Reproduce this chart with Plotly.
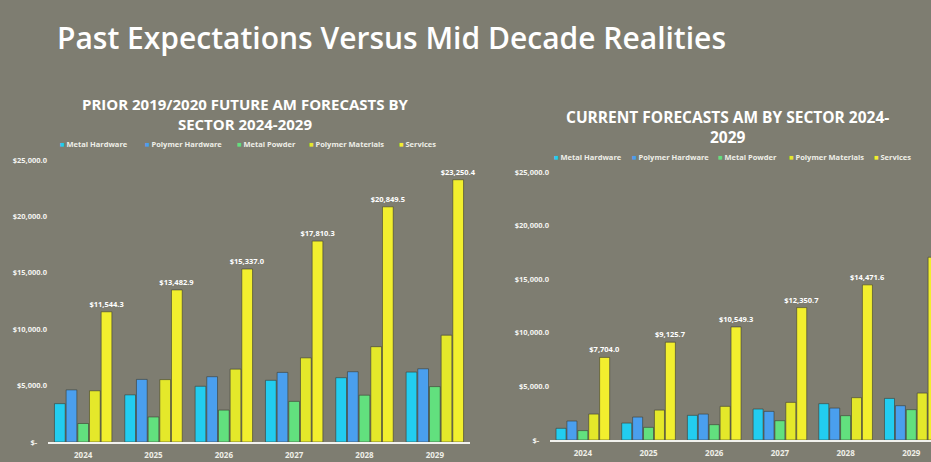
import plotly.graph_objects as go

years = ["2024", "2025", "2026", "2027", "2028", "2029"]
series_names = ["Metal Hardware", "Polymer Hardware", "Metal Powder", "Polymer Materials", "Services"]
colors = ["#22cdf0", "#4a9fee", "#62e07e", "#e4e82a", "#f2ef2e"]

prior_metal_hw = [3400, 4180, 4940, 5470, 5700, 6200]
prior_polymer_hw = [4620, 5550, 5790, 6170, 6230, 6490]
prior_metal_powder = [1640, 2220, 2830, 3600, 4150, 4910]
prior_polymer_mat = [4540, 5530, 6460, 7460, 8450, 9470]
prior_services = [11544.3, 13482.9, 15337.0, 17810.3, 20849.5, 23250.4]

curr_metal_hw = [1090, 1580, 2300, 2890, 3390, 3880]
curr_polymer_hw = [1770, 2140, 2420, 2670, 2980, 3200]
curr_metal_powder = [875, 1180, 1430, 1800, 2270, 2830]
curr_polymer_mat = [2420, 2790, 3140, 3510, 3950, 4380]
curr_services = [7704.0, 9125.7, 10549.3, 12350.7, 14471.6, 17050.0]

y_tickvals = [0, 5000, 10000, 15000, 20000, 25000]
y_ticktext = ["$-\u00a0\u00a0\u00a0\u00a0\u00a0", "$5,000.0", "$10,000.0", "$15,000.0", "$20,000.0", "$25,000.0"]

main_title = "Past Expectations Versus Mid Decade Realities"
left_title = "PRIOR 2019/2020 FUTURE AM FORECASTS BY<br>SECTOR 2024-2029"
right_title = "CURRENT FORECASTS AM BY SECTOR 2024-<br>2029"

FONT = "Open Sans"
W, H = 931, 462

fig = go.Figure()

prior = [prior_metal_hw, prior_polymer_hw, prior_metal_powder, prior_polymer_mat, prior_services]
curr = [curr_metal_hw, curr_polymer_hw, curr_metal_powder, curr_polymer_mat, curr_services]
label_font = dict(family=FONT, size=7.5, color="white", weight="bold")


def add_group(data, xa, ya):
    for i, (name, vals) in enumerate(zip(series_names, data)):
        is_svc = name == "Services"
        fig.add_trace(go.Bar(
            x=years, y=vals, name=name, xaxis=xa, yaxis=ya,
            marker=dict(color=colors[i], line=dict(color="rgba(60,60,50,0.6)", width=1)),
            showlegend=False,
            text=vals if is_svc else None,
            texttemplate="$%{y:,.1f}" if is_svc else None,
            textposition="outside" if is_svc else "none",
            constraintext="none",
            textfont=label_font,
            cliponaxis=False,
        ))


add_group(prior, "x", "y")
add_group(curr, "x2", "y2")

axis_common_x = dict(
    showgrid=False, showline=True, linecolor="#f2f2ee", linewidth=2,
    ticks="", ticklabelstandoff=4,
    tickfont=dict(family=FONT, size=8, color="#efefe8", weight="bold"),
    type="category", zeroline=False,
)
axis_common_y = dict(
    showgrid=False, showline=False, zeroline=False, range=[0, 25000],
    tickvals=y_tickvals, ticktext=y_ticktext, ticks="",
    tickfont=dict(family=FONT, size=7.5, color="#f4f4f0", weight="bold"),
)

# legend built as annotations (square marker + label)
legend_left_x = [58, 143, 235, 307, 397]
legend_right_x = [552, 630, 716, 787, 872]
legend_left_y = 144
legend_right_y = 157

annotations = [
    dict(text=main_title, x=55 / W, y=(H - 38) / H, xref="paper", yref="paper",
         xanchor="left", yanchor="middle", showarrow=False,
         font=dict(family=FONT, size=30, color="white", weight=600)),
    dict(text=left_title, x=245 / W, y=(H - 114) / H, xref="paper", yref="paper",
         xanchor="center", yanchor="middle", showarrow=False,
         font=dict(family=FONT, size=15, color="white", weight="bold")),
    dict(text=right_title, x=727 / W, y=(H - 127) / H, xref="paper", yref="paper",
         xanchor="center", yanchor="middle", showarrow=False,
         font=dict(family=FONT, size=15.5, color="white", weight="bold")),
    # value label of the last (cropped) Services bar in the right chart
    dict(text=f"${curr_services[-1]:,.1f}", x=years[-1], y=curr_services[-1],
         xref="x2", yref="y2", xanchor="left", yanchor="bottom", xshift=7, yshift=2,
         showarrow=False, font=label_font),
]
for xs, yy in ((legend_left_x, legend_left_y), (legend_right_x, legend_right_y)):
    for name, col, xx in zip(series_names, colors, xs):
        annotations.append(dict(
            text=f'<span style="color:{col}">■</span> {name}',
            x=xx / W, y=(H - yy) / H, xref="paper", yref="paper",
            xanchor="left", yanchor="middle", showarrow=False,
            font=dict(family=FONT, size=7.5, color="#efefe8", weight="bold"),
        ))

fig.update_layout(
    width=W, height=H,
    margin=dict(l=0, r=0, t=0, b=0, autoexpand=False),
    paper_bgcolor="#7e7d71",
    plot_bgcolor="rgba(0,0,0,0)",
    barmode="group", bargap=0.17, bargroupgap=0.08,
    xaxis=dict(domain=[48 / W, 470 / W], anchor="y", range=[-0.5, 5.5], **axis_common_x),
    yaxis=dict(domain=[(H - 442) / H, (H - 160) / H], anchor="x", **axis_common_y),
    xaxis2=dict(domain=[550 / W, 1.0], anchor="y2", range=[-0.5, 5.3], **axis_common_x),
    yaxis2=dict(domain=[(H - 440) / H, (H - 172) / H], anchor="x2", **axis_common_y),
    showlegend=False,
    annotations=annotations,
)

fig.write_html("out.html")
